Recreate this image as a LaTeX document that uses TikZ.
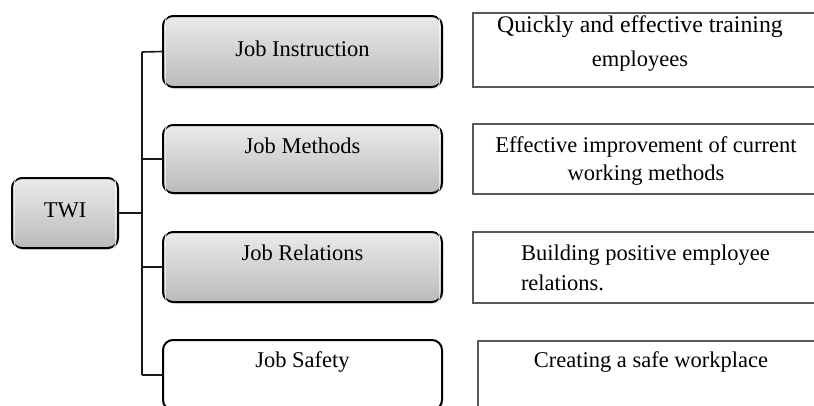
\documentclass[tikz,border=0pt]{standalone}
\usepackage{fontspec}
\setmainfont{Liberation Serif}
\usetikzlibrary{shadows}
\begin{document}
\begin{tikzpicture}[x=1pt,y=-1pt,
  every node/.style={inner sep=0pt, outer sep=0pt},
  txt/.style={font=\fontsize{22.5}{28}\selectfont, text=black, anchor=base},
  graybox/.style={draw=black, line width=2pt, rounded corners=10pt,
    top color=black!8, bottom color=black!27,
    drop shadow={opacity=0.25, shadow xshift=1pt, shadow yshift=-2pt}},
  whitebox/.style={draw=black, line width=2pt, rounded corners=10pt, fill=white,
    drop shadow={opacity=0.25, shadow xshift=1pt, shadow yshift=-2pt}},
  descbox/.style={draw=black!65, line width=1.3pt, fill=white},
  link/.style={draw=black!90, line width=1.6pt}]
\useasboundingbox (0,0) rectangle (814,405);
\clip (0,0) rectangle (814,405);
\fill[white] (0,0) rectangle (814,405);

% left column: root and four programmes
\node[graybox, minimum width=106pt, minimum height=70pt] (twi) at (65,213) {};
\node[graybox, minimum width=279pt, minimum height=71pt] (ji) at (302.5,51.5) {};
\node[graybox, minimum width=279pt, minimum height=68pt] (jm) at (302.5,159) {};
\node[graybox, minimum width=279pt, minimum height=70pt] (jr) at (302.5,267) {};
\node[whitebox, minimum width=279pt, minimum height=70pt] (js) at (302.5,375) {};

% soft inner highlight of the shaded boxes
\foreach \b in {twi,ji,jm,jr}
  \draw[white, line width=0.8pt, rounded corners=8pt, opacity=0.9]
    ([shift={(2.2pt,-2.2pt)}]\b.south west) rectangle ([shift={(-2.2pt,2.2pt)}]\b.north east);

\node[txt] (twit) at (65,217) {TWI};
\node[txt] (jit) at (302.5,56) {Job Instruction};
\node[txt] (jmt) at (302.5,153) {Job Methods};
\node[txt] (jrt) at (302.5,260) {Job Relations};
\node[txt] (jst) at (302.5,367) {Job Safety};

% tree connectors
\coordinate (top) at (142,52);
\coordinate (bot) at (142,375);
\coordinate (mid) at (142,213);
\draw[link] (top) -- (bot);
\draw[link] (twi.east) -- (mid);
\draw[link] (top) -- (ji.west);
\draw[link] (142,159) -- (jm.west);
\draw[link] (142,267) -- (jr.west);
\draw[link] (bot) -- (js.west);

% right column: descriptions (multi-line nodes sit on their last baseline)
\node[descbox, minimum width=350pt, minimum height=74pt, anchor=north west] (jid) at (473,13) {};
\node[descbox, minimum width=350pt, minimum height=70pt, anchor=north west] (jmd) at (473,124) {};
\node[descbox, minimum width=350pt, minimum height=71pt, anchor=north west] (jrd) at (473,232) {};
\node[descbox, minimum width=350pt, minimum height=80pt, anchor=north west] (jsd) at (478,341) {};

\node[txt, font=\fontsize{22.5}{34}\selectfont, align=center] (jidt) at (640,66)
  {{\fontsize{23.8}{34}\selectfont Quickly and effective training}\\employees};
\node[txt, font=\fontsize{22.5}{28}\selectfont, align=center] (jmdt) at (646,180)
  {Effective improvement of current\\working methods};
\node[txt, font=\fontsize{22.5}{30}\selectfont, align=left, anchor=base west] (jrdt) at (521,290)
  {Building positive employee\\relations.};
\node[txt] (jsdt) at (651,367) {Creating a safe workplace};
\end{tikzpicture}
\end{document}
